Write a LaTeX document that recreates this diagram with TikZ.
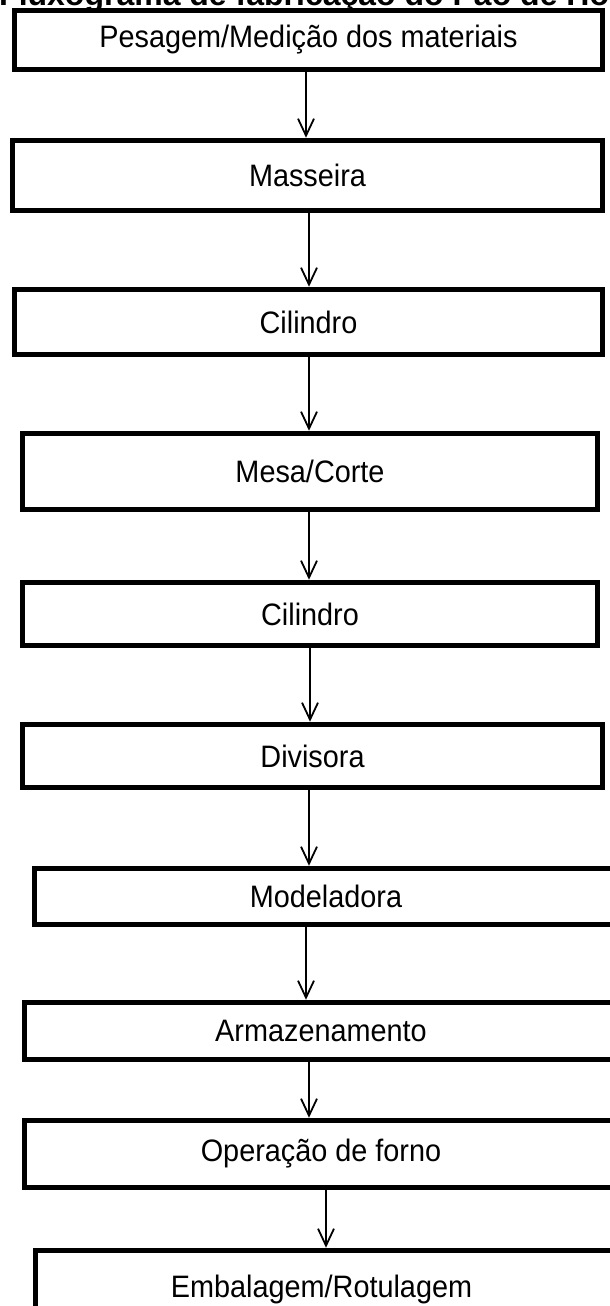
\documentclass[tikz,border=0pt]{standalone}
\usepackage{fontspec}
\setmainfont{Liberation Sans}
\newfontfamily\stepfont[FakeStretch=0.93]{Liberation Sans}
\usetikzlibrary{arrows.meta}
\begin{document}
\begin{tikzpicture}[x=1pt,y=-1pt,
  stage/.style={draw=black, line width=5.5pt, fill=white, rectangle, inner sep=0pt,
    font=\stepfont\fontsize{31}{35}\selectfont, text=black},
  flow/.style={line width=1.8pt,
    -{Straight Barb[length=17pt,width=16pt,line width=1.8pt]}}]
\useasboundingbox (0,0) rectangle (610,1306);
\clip (0,0) rectangle (610,1306);

% heading, mostly above the top edge
\node[anchor=base west, inner sep=0pt, font=\bfseries\fontsize{32}{36}\selectfont]
  (title) at (-1,6) {Fluxograma de fabricação do Pão de Hot Dog};

% process steps
\node[stage, minimum width=588pt, minimum height=59pt] (b1) at (308.5,40) {Pesagem/Medição dos materiais};
\node[stage, minimum width=590pt, minimum height=70pt] (b2) at (307.5,175.5) {Masseira};
\node[stage, minimum width=588pt, minimum height=65pt] (b3) at (308.5,322) {Cilindro};
\node[stage, minimum width=575pt, minimum height=76pt] (b4) at (310,471.5) {Mesa/Corte};
\node[stage, minimum width=575pt, minimum height=63pt] (b5) at (310,614) {Cilindro};
\node[stage, minimum width=580pt, minimum height=63pt] (b6) at (312.5,756) {Divisora};
\node[stage, minimum width=583pt, minimum height=56pt] (b7) at (326,896.5) {Modeladora};
\node[stage, minimum width=593pt, minimum height=57pt] (b8) at (321,1031) {Armazenamento};
\node[stage, minimum width=593pt, minimum height=67pt] (b9) at (321,1154) {Operação de forno};
\node[stage, minimum width=612pt, minimum height=77pt,
  label={[font=\stepfont\fontsize{31}{35}\selectfont, xshift=-20pt]center:Embalagem/Rotulagem}] (b10) at (341.5,1289) {};

% columns of the connectors
\coordinate (c1) at (306,0);
\coordinate (c2) at (309,0);
\coordinate (c3) at (309,0);
\coordinate (c4) at (309,0);
\coordinate (c5) at (310,0);
\coordinate (c6) at (309,0);
\coordinate (c7) at (306,0);
\coordinate (c8) at (309,0);
\coordinate (c9) at (326,0);

\draw[flow] (b1.south -| c1) -- (b2.north -| c1);
\draw[flow] (b2.south -| c2) -- (b3.north -| c2);
\draw[flow] (b3.south -| c3) -- (b4.north -| c3);
\draw[flow] (b4.south -| c4) -- (b5.north -| c4);
\draw[flow] (b5.south -| c5) -- (b6.north -| c5);
\draw[flow] (b6.south -| c6) -- (b7.north -| c6);
\draw[flow] (b7.south -| c7) -- (b8.north -| c7);
\draw[flow] (b8.south -| c8) -- (b9.north -| c8);
\draw[flow] (b9.south -| c9) -- (b10.north -| c9);
\end{tikzpicture}
\end{document}
